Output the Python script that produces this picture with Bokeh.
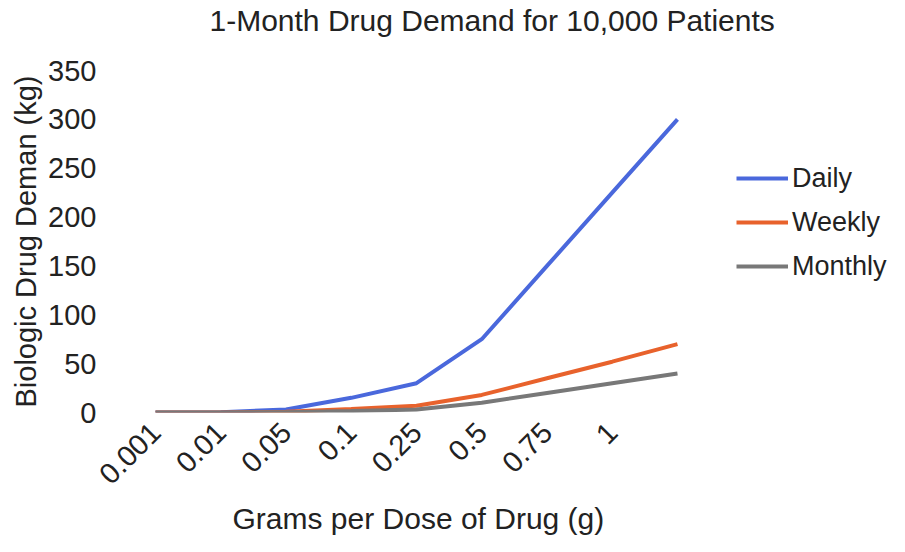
from bokeh.plotting import figure
from bokeh.models import Range1d, FixedTicker, Legend, LegendItem, Title
from bokeh.embed import file_html
from bokeh.resources import INLINE
import math

# ---- data ----
x_index = [0, 1, 2, 3, 4, 5, 6, 7, 8]
tick_labels = ["0.001", "0.01", "0.05", "0.1", "0.25", "0.5", "0.75", "1"]
daily = [0, 0.3, 3, 15, 30, 75, 150, 225, 300]
weekly = [0, 0.07, 0.7, 3.5, 7, 18, 35, 52, 70]
monthly = [0, 0.03, 0.3, 1.5, 3, 10, 20, 30, 40]
y_ticks = [0, 50, 100, 150, 200, 250, 300, 350]

FONT = "Liberation Sans"
TXT = "#222222"
FS = "29px"

# frame spans to the right edge so the legend can sit inside it
p = figure(width=889, height=540, output_backend="svg", toolbar_location=None,
           x_range=Range1d(-0.2, 11.25), y_range=Range1d(0, 350),
           min_border_left=142, min_border_right=0, min_border_top=70,
           min_border_bottom=128)
p.outline_line_color = None
p.xgrid.grid_line_color = None
p.ygrid.grid_line_color = None

# spacer between frame and title, then the title itself
p.add_layout(Title(text=" ", text_font_size="20px", standoff=9), "above")
p.add_layout(Title(text="1-Month Drug Demand for 10,000 Patients", align="left",
                   offset=67, text_font=FONT, text_font_size="30px",
                   text_font_style="normal", text_color=TXT, standoff=2), "above")

# axes
p.xaxis.ticker = FixedTicker(ticks=list(range(len(tick_labels))))
p.xaxis.major_label_overrides = {i: lab for i, lab in enumerate(tick_labels)}
p.xaxis.major_label_orientation = math.pi / 4
p.yaxis.ticker = FixedTicker(ticks=y_ticks)
for ax in (p.xaxis, p.yaxis):
    ax.axis_line_color = None
    ax.major_tick_line_color = None
    ax.minor_tick_line_color = None
    ax.major_tick_out = 0
    ax.major_tick_in = 0
    ax.major_label_text_font = FONT
    ax.major_label_text_font_size = FS
    ax.major_label_text_color = TXT
    ax.axis_label_text_font = FONT
    ax.axis_label_text_font_size = FS
    ax.axis_label_text_font_style = "normal"
    ax.axis_label_text_color = TXT
p.yaxis.major_label_standoff = 46
p.xaxis.major_label_standoff = 15
p.yaxis.axis_label = "Biologic Drug Deman (kg)"
p.yaxis.axis_label_standoff = 3

p.add_layout(Title(text="Grams per Dose of Drug (g)", align="left", offset=90,
                   text_font=FONT, text_font_size="30px", text_font_style="normal",
                   text_color=TXT, standoff=9), "below")

r_d = p.line(x_index, daily, line_color="#4a68dc", line_width=4)
r_w = p.line(x_index, weekly, line_color="#e8622c", line_width=4)
r_m = p.line(x_index, monthly, line_color="#787878", line_width=4)

legend = Legend(items=[LegendItem(label="Daily", renderers=[r_d]),
                       LegendItem(label="Weekly", renderers=[r_w]),
                       LegendItem(label="Monthly", renderers=[r_m])],
                location=(594, 129), padding=0, margin=0, spacing=10,
                glyph_width=52, glyph_height=34, label_standoff=4,
                label_text_font=FONT, label_text_font_size="27px",
                label_text_color=TXT, border_line_color=None,
                background_fill_alpha=0)
p.add_layout(legend, "center")

open("out.html", "w").write(file_html(p, INLINE))
